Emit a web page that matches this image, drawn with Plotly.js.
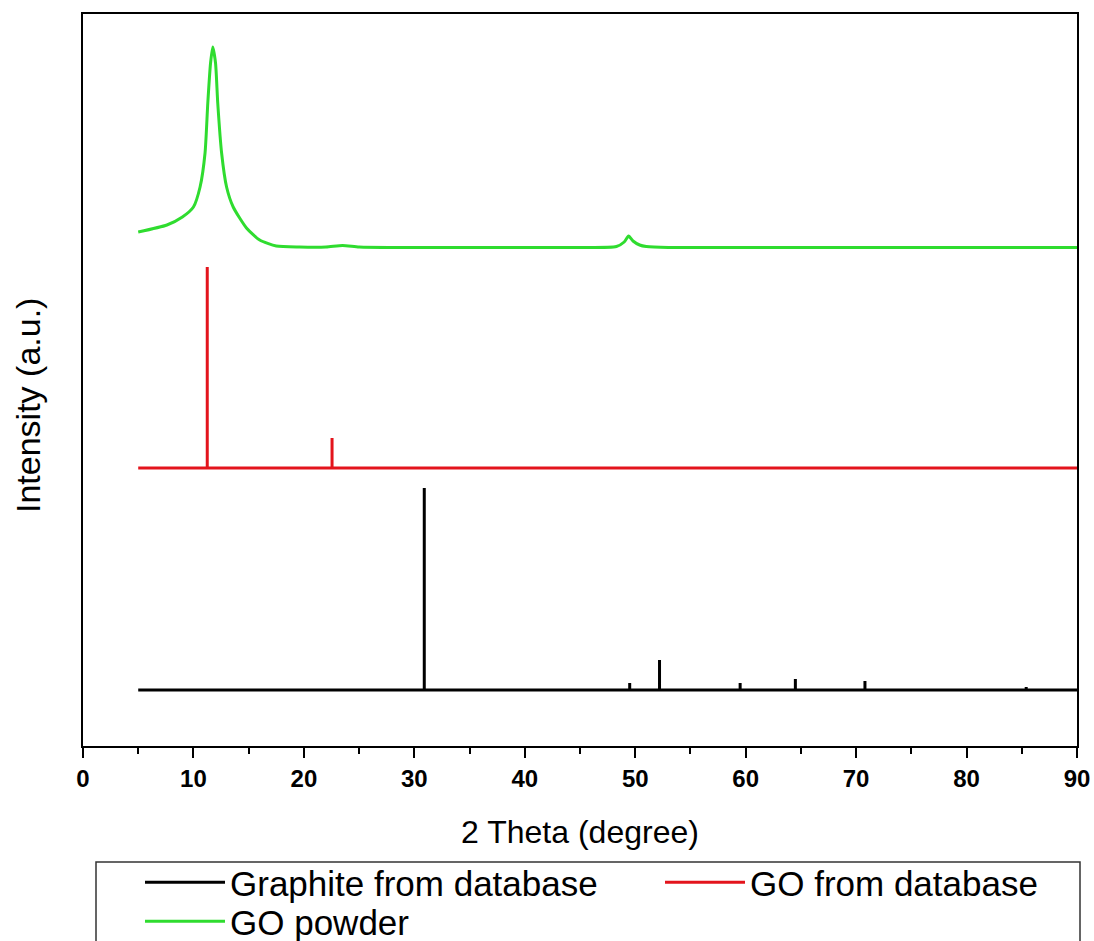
<!DOCTYPE html>
<html>
<head>
<meta charset="utf-8">
<script src="https://cdn.plot.ly/plotly-3.0.1.min.js"></script>
<style>html,body{margin:0;padding:0;background:#fff;}#chart{width:1094px;height:941px;}</style>
</head>
<body>
<div id="chart"></div>
<script>
// ---- data ----
var xStart = 5, xEnd = 90;

// Graphite from database: stick pattern
var graphiteOffset = 56;
var graphitePos = [30.9, 49.5, 52.2, 59.5, 64.5, 70.8, 85.4];
var graphiteInt = [202, 7, 30, 7, 11, 9, 3];

// GO from database: stick pattern
var goDbOffset = 278;
var goDbPos = [11.25, 22.55];
var goDbInt = [201, 30];

// GO powder: measured curve
var goPowderX = [5, 7.6, 9.0, 10.0, 10.6, 11.05, 11.3, 11.55, 11.75, 12.0, 12.2, 12.55, 13.0, 13.6, 14.8, 16.0, 17.5, 19.6, 22, 23.5, 25, 28.7, 35, 45, 48.3, 49.0, 49.4, 49.8, 50.4, 51.0, 53, 60, 70, 80, 90];
var goPowderY = [514, 521, 529, 539, 559, 593, 643, 683, 699, 683, 643, 593, 559, 539, 518, 506, 500, 499, 499, 500.5, 499, 498.5, 498.5, 498.5, 499.5, 504, 510, 505, 501, 499.5, 498.5, 498.5, 498.5, 498.5, 498.5];

var xTickVals = [0, 10, 20, 30, 40, 50, 60, 70, 80, 90];
var xTickText = ['0', '10', '20', '30', '40', '50', '60', '70', '80', '90'];
var yTitle = 'Intensity (a.u.)';
var xTitle = '2 Theta (degree)';

// ---- build stick traces ----
function sticks(pos, inten, base) {
  var xs = [xStart], ys = [base];
  for (var i = 0; i < pos.length; i++) {
    xs.push(pos[i], pos[i], pos[i]);
    ys.push(base, base + inten[i], base);
  }
  xs.push(xEnd); ys.push(base);
  return {x: xs, y: ys};
}
var g = sticks(graphitePos, graphiteInt, graphiteOffset);
var r = sticks(goDbPos, goDbInt, goDbOffset);

var FONT = 'Liberation Sans, Arial, sans-serif';

var traces = [
  {x: g.x, y: g.y, mode: 'lines', name: 'Graphite from database',
   line: {color: '#000000', width: 3}, legend: 'legend'},
  {x: r.x, y: r.y, mode: 'lines', name: 'GO from database',
   line: {color: '#e3141c', width: 3}, legend: 'legend2'},
  {x: goPowderX, y: goPowderY, mode: 'lines', name: 'GO powder',
   line: {color: '#2fdc2f', width: 3, shape: 'spline', smoothing: 0.6}, legend: 'legend3'}
];

function legendAt(px, py) {
  return {
    orientation: 'v', xref: 'container', yref: 'container',
    x: px / 1094, xanchor: 'left', y: 1 - py / 941, yanchor: 'top',
    bgcolor: 'rgba(0,0,0,0)', borderwidth: 0, itemwidth: 80,
    font: {family: FONT, size: 35, color: '#000'}
  };
}

var layout = {
  width: 1094, height: 941,
  margin: {l: 83, r: 17, t: 14, b: 195, autoexpand: false},
  paper_bgcolor: '#ffffff', plot_bgcolor: '#ffffff',
  font: {family: FONT, color: '#000'},
  showlegend: true,
  xaxis: {
    range: [0, 90], showgrid: false, zeroline: false,
    showline: true, linecolor: '#000', linewidth: 2, mirror: true,
    ticks: 'outside', ticklen: 10, tickwidth: 2, tickcolor: '#000',
    tickvals: xTickVals, ticktext: xTickText,
    tickfont: {family: FONT, size: 24, weight: 'bold', color: '#000'},
    minor: {dtick: 5, tick0: 0, ticks: 'outside', ticklen: 6, tickwidth: 2, tickcolor: '#000', showgrid: false},
    title: {text: xTitle, font: {family: FONT, size: 32, color: '#000'}, standoff: 30}
  },
  yaxis: {
    range: [0, 732], showgrid: false, zeroline: false,
    showline: true, linecolor: '#000', linewidth: 2, mirror: true,
    ticks: '', showticklabels: false
  },
  annotations: [{
    text: yTitle, xref: 'paper', yref: 'paper',
    x: (28 - 83) / 994, y: (746 - 406) / 732, xanchor: 'center', yanchor: 'middle',
    textangle: -90, showarrow: false,
    font: {family: FONT, size: 34, color: '#000'}
  }],
  legend: legendAt(140, 853),
  legend2: legendAt(660, 853),
  legend3: legendAt(140, 892),
  shapes: [{
    type: 'rect', xref: 'paper', yref: 'paper',
    x0: (96 - 83) / 994, x1: (1080 - 83) / 994,
    y0: (746 - 862) / 732, y1: (746 - 990) / 732,
    line: {color: '#333', width: 1.5}, fillcolor: 'rgba(0,0,0,0)'
  }]
};

Plotly.newPlot('chart', traces, layout, {displayModeBar: false, staticPlot: true});
</script>
</body>
</html>
